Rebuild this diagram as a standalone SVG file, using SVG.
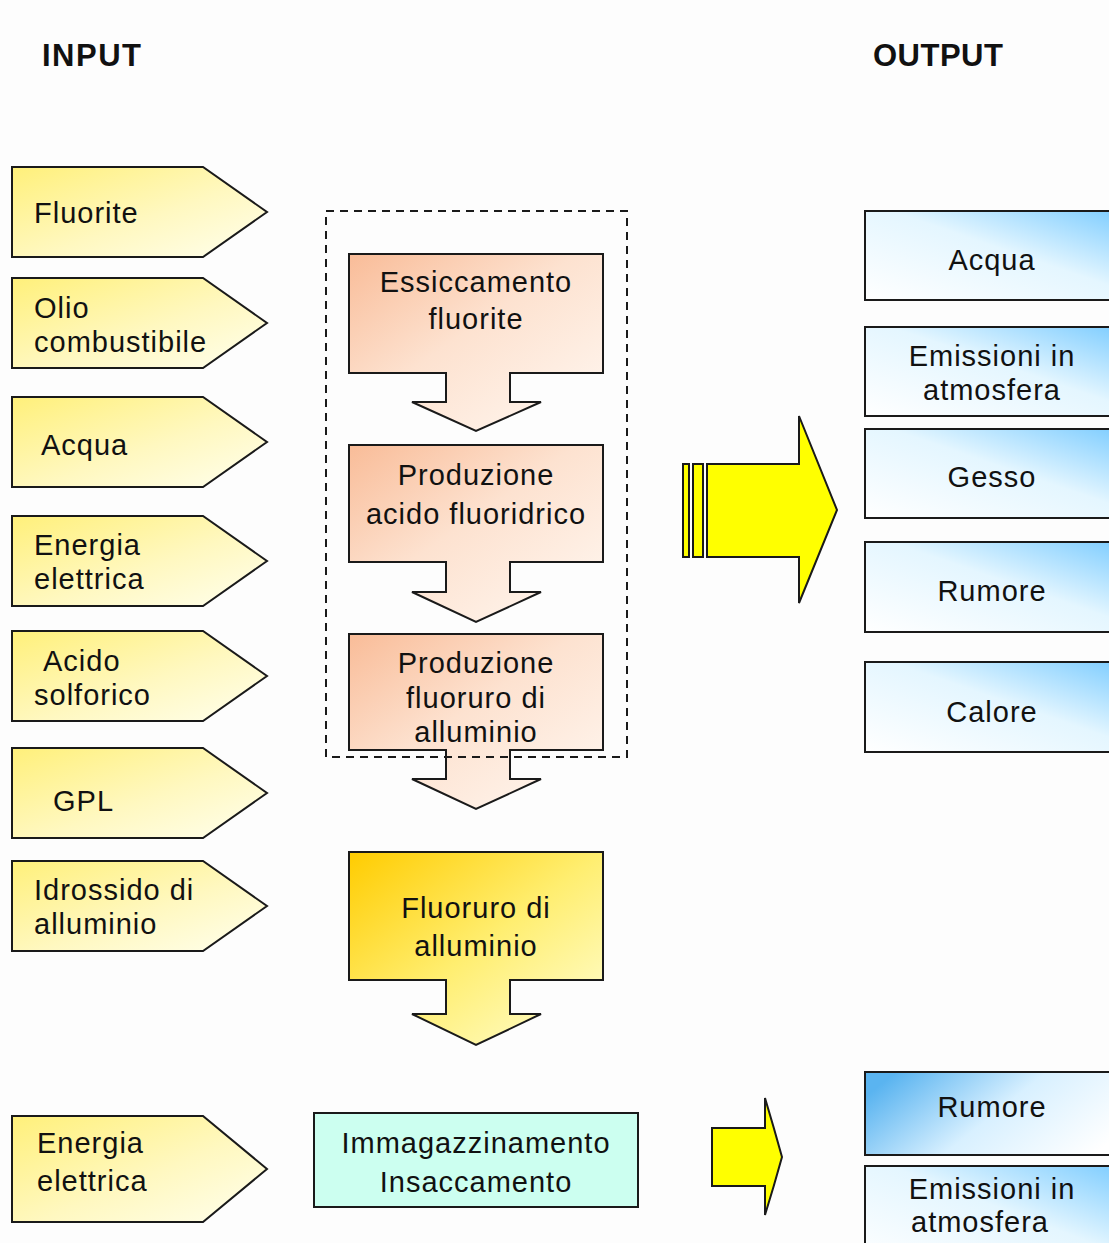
<svg xmlns="http://www.w3.org/2000/svg" width="1109" height="1243" viewBox="0 0 1109 1243">
  <defs>
    <linearGradient id="gIn" x1="0" y1="0" x2="1" y2="1">
      <stop offset="0" stop-color="#FFF07A"/>
      <stop offset="0.55" stop-color="#FFF8C0"/>
      <stop offset="1" stop-color="#FFFFEE"/>
    </linearGradient>
    <linearGradient id="gProc" x1="0" y1="0" x2="1" y2="1">
      <stop offset="0" stop-color="#F9BC98"/>
      <stop offset="0.45" stop-color="#FDE2D0"/>
      <stop offset="1" stop-color="#FFF8F2"/>
    </linearGradient>
    <linearGradient id="gGold" x1="0" y1="0" x2="1" y2="1">
      <stop offset="0" stop-color="#FFCC00"/>
      <stop offset="0.5" stop-color="#FFEE70"/>
      <stop offset="1" stop-color="#FFFFD8"/>
    </linearGradient>
    <linearGradient id="gOut" x1="0" y1="1" x2="1" y2="0">
      <stop offset="0" stop-color="#FFFFFF"/>
      <stop offset="0.55" stop-color="#E4F6FF"/>
      <stop offset="1" stop-color="#7CCCFF"/>
    </linearGradient>
    <linearGradient id="gOutB" x1="0" y1="0.3" x2="1" y2="0.7">
      <stop offset="0" stop-color="#5AB4F0"/>
      <stop offset="0.5" stop-color="#D8F0FF"/>
      <stop offset="1" stop-color="#FFFFFF"/>
    </linearGradient>
    <style>
      .t { font-family: "Liberation Sans", Arial, sans-serif; font-size: 29px; letter-spacing: 1px; fill: #111; }
      .c { text-anchor: middle; }
      .h { font-family: "Liberation Sans", Arial, sans-serif; font-size: 31px; font-weight: bold; fill: #111; }
      .in { fill: url(#gIn); stroke: #1a1a1a; stroke-width: 2; }
      .proc { fill: url(#gProc); stroke: #1a1a1a; stroke-width: 2; }
      .out { fill: url(#gOut); stroke: #1a1a1a; stroke-width: 2; }
      .outB { fill: url(#gOutB); stroke: #1a1a1a; stroke-width: 2; }
      .big { fill: #FFFF00; stroke: #1a1a1a; stroke-width: 2; }
    </style>
  </defs>

  <rect x="0" y="0" width="1109" height="1243" fill="#FDFDFD"/>

  <text class="h" x="42" y="66" letter-spacing="1.5">INPUT</text>
  <text class="h" x="873" y="66" letter-spacing="0.5">OUTPUT</text>

  <!-- input pentagons -->
  <g id="in-fluorite">
    <path class="in" d="M12,167 H203 L267,212 L203,257 H12 Z"/>
    <text class="t" x="34" y="223">Fluorite</text>
  </g>
  <g id="in-olio">
    <path class="in" d="M12,278 H203 L267,323 L203,368 H12 Z"/>
    <text class="t" x="34" y="318">Olio</text>
    <text class="t" x="34" y="352">combustibile</text>
  </g>
  <g id="in-acqua">
    <path class="in" d="M12,397 H203 L267,442 L203,487 H12 Z"/>
    <text class="t" x="41" y="455">Acqua</text>
  </g>
  <g id="in-energia">
    <path class="in" d="M12,516 H203 L267,561 L203,606 H12 Z"/>
    <text class="t" x="34" y="555">Energia</text>
    <text class="t" x="34" y="589">elettrica</text>
  </g>
  <g id="in-acido">
    <path class="in" d="M12,631 H203 L267,676 L203,721 H12 Z"/>
    <text class="t" x="43" y="671">Acido</text>
    <text class="t" x="34" y="705">solforico</text>
  </g>
  <g id="in-gpl">
    <path class="in" d="M12,748 H203 L267,793 L203,838 H12 Z"/>
    <text class="t" x="53" y="811">GPL</text>
  </g>
  <g id="in-idrossido">
    <path class="in" d="M12,861 H203 L267,906 L203,951 H12 Z"/>
    <text class="t" x="34" y="900">Idrossido di</text>
    <text class="t" x="34" y="934">alluminio</text>
  </g>
  <g id="in-energia2">
    <path class="in" d="M12,1116 H203 L267,1169 L203,1222 H12 Z"/>
    <text class="t" x="37" y="1153">Energia</text>
    <text class="t" x="37" y="1191">elettrica</text>
  </g>

  <!-- process steps (box with down arrow callout) -->
  <g id="p-essiccamento">
    <path class="proc" d="M349,254 H603 V373 H510 V402 H541 L476,431 L412,402 H446 V373 H349 Z"/>
    <text class="t c" x="476" y="292">Essiccamento</text>
    <text class="t c" x="476" y="329">fluorite</text>
  </g>
  <g id="p-acido">
    <path class="proc" d="M349,445 H603 V562 H510 V592 H541 L476,622 L412,592 H446 V562 H349 Z"/>
    <text class="t c" x="476" y="485">Produzione</text>
    <text class="t c" x="476" y="524">acido fluoridrico</text>
  </g>
  <g id="p-fluoruro">
    <path class="proc" d="M349,634 H603 V750 H510 V779 H541 L476,809 L412,779 H446 V750 H349 Z"/>
    <text class="t c" x="476" y="673">Produzione</text>
    <text class="t c" x="476" y="708">fluoruro di</text>
    <text class="t c" x="476" y="742">alluminio</text>
  </g>
  <g id="p-prodotto">
    <path d="M349,852 H603 V980 H510 V1014 H541 L476,1045 L412,1014 H446 V980 H349 Z" fill="url(#gGold)" stroke="#1a1a1a" stroke-width="2"/>
    <text class="t c" x="476" y="918">Fluoruro di</text>
    <text class="t c" x="476" y="956">alluminio</text>
  </g>
  <g id="p-immagazzinamento">
    <rect x="314" y="1113" width="324" height="94" fill="#CCFFF0" stroke="#1a1a1a" stroke-width="2"/>
    <text class="t c" x="476" y="1153">Immagazzinamento</text>
    <text class="t c" x="476" y="1192">Insaccamento</text>
  </g>

  <!-- process boundary -->
  <rect id="process-boundary" x="326" y="211" width="301" height="546" fill="none" stroke="#1a1a1a" stroke-width="2" stroke-dasharray="8,6"/>

  <!-- flow arrows -->
  <g id="connectors">
    <rect class="big" x="683" y="464" width="6" height="93"/>
    <rect class="big" x="693" y="464" width="10" height="93"/>
    <path class="big" d="M707,464 H799 V416 L837,510 L799,603 V557 H707 Z"/>
    <path class="big" d="M712,1128 H765 V1098 Q774,1128 782,1157 Q774,1186 765,1215 V1186 H712 Z"/>
  </g>

  <!-- outputs -->
  <g id="out-acqua">
    <rect class="out" x="865" y="211" width="260" height="89"/>
    <text class="t c" x="992" y="270">Acqua</text>
  </g>
  <g id="out-emissioni">
    <rect class="out" x="865" y="327" width="260" height="89"/>
    <text class="t c" x="992" y="366">Emissioni in</text>
    <text class="t c" x="992" y="400">atmosfera</text>
  </g>
  <g id="out-gesso">
    <rect class="out" x="865" y="429" width="260" height="89"/>
    <text class="t c" x="992" y="487">Gesso</text>
  </g>
  <g id="out-rumore">
    <rect class="out" x="865" y="542" width="260" height="90"/>
    <text class="t c" x="992" y="601">Rumore</text>
  </g>
  <g id="out-calore">
    <rect class="out" x="865" y="662" width="260" height="90"/>
    <text class="t c" x="992" y="722">Calore</text>
  </g>
  <g id="out-rumore2">
    <rect class="outB" x="865" y="1072" width="260" height="83"/>
    <text class="t c" x="992" y="1117">Rumore</text>
  </g>
  <g id="out-emissioni2">
    <rect class="out" x="865" y="1166" width="260" height="100"/>
    <text class="t c" x="992" y="1199">Emissioni in</text>
    <text class="t c" x="980" y="1232">atmosfera</text>
  </g>
</svg>
